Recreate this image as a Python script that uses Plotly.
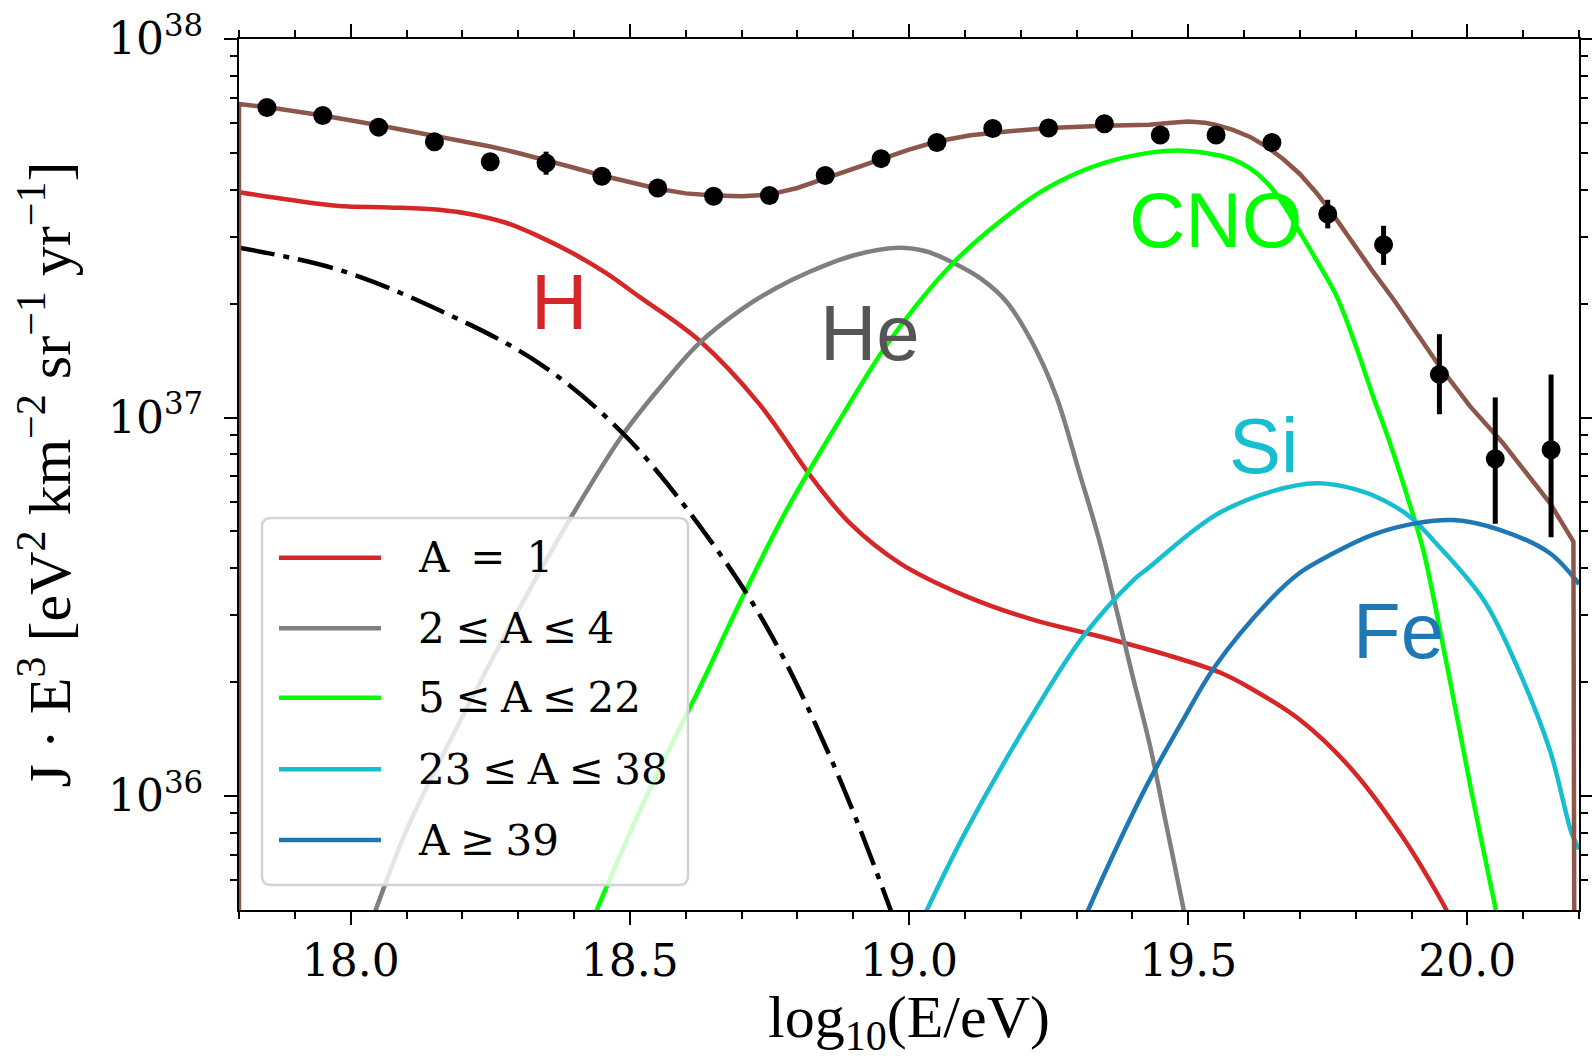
import plotly.graph_objects as go

# ---------------- data ----------------
# measured points
data_x = [17.85, 17.95, 18.05, 18.15, 18.25, 18.35, 18.45, 18.55, 18.65, 18.75, 18.85, 18.95,
          19.05, 19.15, 19.25, 19.35, 19.45, 19.55, 19.65, 19.75, 19.85, 19.95, 20.05, 20.15]
data_y = [6.59e37, 6.28e37, 5.85e37, 5.35e37, 4.74e37, 4.70e37, 4.34e37, 4.04e37, 3.84e37, 3.86e37,
          4.36e37, 4.83e37, 5.33e37, 5.80e37, 5.82e37, 5.97e37, 5.58e37, 5.58e37, 5.33e37, 3.45e37,
          2.86e37, 1.30e37, 7.78e36, 8.22e36]
err_plus = [1.5e36, 1.5e36, 1.5e36, 1.5e36, 1.5e36, 3.4e36, 1.4e36, 1.3e36, 1.2e36, 1.2e36,
            1.4e36, 1.5e36, 1.6e36, 1.8e36, 1.8e36, 1.9e36, 1.8e36, 1.8e36, 1.9e36, 3.1e36,
            3.5e36, 3.6e36, 3.52e36, 4.78e36]
err_minus = [1.5e36, 1.5e36, 1.5e36, 1.5e36, 1.5e36, 3.2e36, 1.4e36, 1.3e36, 1.2e36, 1.2e36,
             1.4e36, 1.5e36, 1.6e36, 1.8e36, 1.8e36, 1.9e36, 1.8e36, 1.8e36, 1.9e36, 2.9e36,
             3.3e36, 2.8e36, 2.54e36, 3.39e36]

# model components
h_x = [17.80, 17.89, 17.979, 18.069, 18.158, 18.218, 18.278, 18.337, 18.397, 18.457, 18.516, 18.624,
       18.731, 18.829, 18.894, 18.984, 19.103, 19.223, 19.342, 19.462, 19.557, 19.611, 19.70, 19.79,
       19.88, 19.951, 20.00]
h_y = [3.94e37, 3.76e37, 3.62e37, 3.59e37, 3.54e37, 3.44e37, 3.27e37, 3.01e37, 2.72e37, 2.41e37,
       2.09e37, 1.60e37, 1.09e37, 6.84e36, 5.26e36, 4.12e36, 3.37e36, 2.92e36, 2.64e36, 2.36e36,
       2.12e36, 1.93e36, 1.59e36, 1.19e36, 7.96e35, 5.37e35, 3.9e35]

he_x = [18.03, 18.045, 18.10, 18.20, 18.30, 18.40, 18.487, 18.56, 18.624, 18.70, 18.76, 18.82, 18.90,
        18.98, 19.03, 19.08, 19.13, 19.175, 19.22, 19.264, 19.306, 19.34, 19.372, 19.40, 19.432, 19.46,
        19.491, 19.51]
he_y = [4.37e35, 5.01e35, 8.13e35, 1.62e36, 3.09e36, 5.62e36, 8.99e36, 1.23e37, 1.57e37, 1.93e37,
        2.19e37, 2.42e37, 2.68e37, 2.81e37, 2.75e37, 2.56e37, 2.32e37, 2.02e37, 1.585e37, 1.135e37,
        7.08e36, 4.79e36, 3.09e36, 2.09e36, 1.35e36, 8.51e35, 5.09e35, 3.63e35]

cno_x = [18.43, 18.441, 18.53, 18.626, 18.70, 18.781, 18.876, 18.966, 19.079, 19.16, 19.235, 19.30,
         19.354, 19.432, 19.49, 19.551, 19.58, 19.611, 19.641, 19.67, 19.70, 19.73, 19.766, 19.80,
         19.83, 19.862, 19.897, 19.921, 19.94, 19.972, 20.009, 20.051, 20.07]
cno_y = [4.57e35, 5.01e35, 1.0e36, 1.945e36, 3.31e36, 5.70e36, 9.86e36, 1.60e37, 2.56e37, 3.27e37,
         3.94e37, 4.42e37, 4.73e37, 5.01e37, 5.07e37, 4.94e37, 4.81e37, 4.55e37, 4.17e37, 3.67e37,
         3.09e37, 2.60e37, 2.09e37, 1.55e37, 1.15e37, 8.51e36, 5.89e36, 4.47e36, 3.31e36, 1.91e36,
         1.0e36, 5.01e35, 3.72e35]

si_x = [19.02, 19.032, 19.103, 19.223, 19.312, 19.402, 19.432, 19.50, 19.557, 19.65, 19.73, 19.80,
        19.85, 19.90, 19.939, 20.029, 20.089, 20.148, 20.187, 20.20]
si_y = [4.57e35, 5.0e35, 8.13e35, 1.656e36, 2.64e36, 3.72e36, 4.04e36, 4.90e36, 5.61e36, 6.38e36,
        6.70e36, 6.46e36, 6.05e36, 5.43e36, 4.74e36, 3.30e36, 2.20e36, 1.32e36, 7.96e35, 7.24e35]

fe_x = [19.31, 19.321, 19.38, 19.432, 19.49, 19.548, 19.647, 19.70, 19.76, 19.83, 19.909, 19.975,
        20.058, 20.148, 20.19, 20.20]
fe_y = [4.57e35, 5.0e35, 7.76e35, 1.11e36, 1.58e36, 2.20e36, 3.30e36, 3.89e36, 4.38e36, 4.90e36,
        5.26e36, 5.36e36, 5.05e36, 4.38e36, 3.79e36, 3.63e36]

dd_x = [17.80, 17.979, 18.158, 18.337, 18.487, 18.626, 18.745, 18.864, 18.966, 19.00]
dd_y = [2.81e37, 2.455e37, 1.923e37, 1.393e37, 9.10e36, 5.15e36, 2.80e36, 1.219e36, 5.05e35, 3.6e35]

tot_x = [17.80, 17.80, 17.85, 17.95, 18.05, 18.10, 18.15, 18.20, 18.25, 18.30, 18.35, 18.40, 18.45,
         18.50, 18.55, 18.60, 18.65, 18.70, 18.75, 18.80, 18.85, 18.90, 18.95, 19.00, 19.05, 19.11,
         19.175, 19.25, 19.35, 19.43, 19.47, 19.50, 19.53, 19.55, 19.58, 19.61, 19.64, 19.67, 19.70,
         19.73, 19.76, 19.79, 19.83, 19.868, 19.91, 19.951, 20.005, 20.064, 20.148, 20.19, 20.20]
tot_y = [1e30, 6.73e37, 6.61e37, 6.28e37, 5.92e37, 5.73e37, 5.55e37, 5.38e37, 5.20e37, 5.00e37,
         4.79e37, 4.57e37, 4.36e37, 4.18e37, 4.02e37, 3.91e37, 3.86e37, 3.84e37, 3.88e37, 4.04e37,
         4.28e37, 4.55e37, 4.82e37, 5.10e37, 5.36e37, 5.57e37, 5.70e37, 5.82e37, 5.90e37, 5.94e37,
         6.01e37, 6.05e37, 6.01e37, 5.93e37, 5.75e37, 5.52e37, 5.20e37, 4.82e37, 4.40e37, 3.92e37,
         3.43e37, 2.95e37, 2.44e37, 2.05e37, 1.67e37, 1.36e37, 1.07e37, 8.55e36, 5.94e36, 4.70e36,
         1e30]

series_names = ["A\u2002=\u20021", "2\u2005≤\u2005A\u2005≤\u20054", "5\u2005≤\u2005A\u2005≤\u200522",
                "23\u2005≤\u2005A\u2005≤\u200538", "A\u2005≥\u200539"]
curve_labels = ["H", "He", "CNO", "Si", "Fe"]
label_x = [18.373, 18.931, 19.549, 19.635, 19.877]
label_logy = [37.304, 37.224, 37.523, 36.925, 36.436]

x_tickvals = [18.0, 18.5, 19.0, 19.5, 20.0]
x_ticktext = ["18.0", "18.5", "19.0", "19.5", "20.0"]
y_tickvals = [1e36, 1e37, 1e38]
y_ticktext = ["10<sup>36</sup>", "10<sup>37</sup>", "10<sup>38</sup>"]
y_minor = [float(k) * 10.0 ** d for d in (35, 36, 37) for k in range(2, 10)
           if float(k) * 10.0 ** d >= 5e35]

# ---------------- styling ----------------
colors = ["#d62728", "#7f7f7f", "#00ff00", "#17becf", "#1f77b4"]
label_colors = ["#d62728", "#555555", "#00ff00", "#17becf", "#1f77b4"]
LW = 4.5

fig = go.Figure()
comp = [(h_x, h_y), (he_x, he_y), (cno_x, cno_y), (si_x, si_y), (fe_x, fe_y)]
for (xs, ys), c, n in zip(comp, colors, series_names):
    fig.add_trace(go.Scatter(x=xs, y=ys, mode="lines", name=n,
                             line=dict(color=c, width=LW, shape="spline", smoothing=1.0)))
fig.add_trace(go.Scatter(x=dd_x, y=dd_y, mode="lines", name="dash-dot",
                         line=dict(color="black", width=LW, dash="36px,9px,6px,9px",
                                   shape="spline", smoothing=1.0)))
fig.add_trace(go.Scatter(x=tot_x, y=tot_y, mode="lines", name="total",
                         line=dict(color="#8c564b", width=LW)))
fig.add_trace(go.Scatter(x=data_x, y=data_y, mode="markers", name="data",
                         marker=dict(color="black", size=19),
                         error_y=dict(type="data", symmetric=False, array=err_plus,
                                      arrayminus=err_minus, color="black", thickness=5, width=0)))

# curve labels
for t, xv, yv, c in zip(curve_labels, label_x, label_logy, label_colors):
    fig.add_annotation(x=xv, y=yv, xref="x", yref="y", text=t, showarrow=False,
                       xanchor="center", yanchor="middle",
                       font=dict(family="Liberation Sans, Arial", size=78, color=c))

# legend (drawn manually to match line-sample length)
L = 239; R = 1579; T = 39; B = 910
W = R - L; H = B - T
def px(xf):
    return (xf - L) / W
def py(yf):
    return (B - yf) / H
bx0, bx1, by0, by1 = px(262), px(688), py(885), py(518)
rx, ry = 9 / W, 9 / H
path = (f"M{bx0+rx},{by1} L{bx1-rx},{by1} Q{bx1},{by1} {bx1},{by1-ry} "
        f"L{bx1},{by0+ry} Q{bx1},{by0} {bx1-rx},{by0} L{bx0+rx},{by0} "
        f"Q{bx0},{by0} {bx0},{by0+ry} L{bx0},{by1-ry} Q{bx0},{by1} {bx0+rx},{by1} Z")
fig.add_shape(type="path", path=path, xref="paper", yref="paper", layer="above",
              fillcolor="rgba(255,255,255,0.8)", line=dict(color="#d4d4d4", width=2.5))
entry_y = [557.7, 628.3, 697.7, 769.3, 840.0]
for ey, c, n in zip(entry_y, colors, series_names):
    fig.add_shape(type="line", xref="paper", yref="paper", layer="above",
                  x0=px(279), x1=px(381), y0=py(ey), y1=py(ey),
                  line=dict(color=c, width=LW))
    fig.add_annotation(x=px(416), y=py(ey), xref="paper", yref="paper", text=n,
                       showarrow=False, xanchor="left", yanchor="middle",
                       font=dict(family="DejaVu Serif", size=42, color="black"))

axis_common = dict(showline=True, linecolor="black", linewidth=2.2, mirror="allticks",
                   ticks="outside", ticklen=13, tickwidth=2.2, tickcolor="black",
                   showgrid=False, zeroline=False, automargin=False,
                   tickfont=dict(family="DejaVu Serif", size=44, color="black"))

fig.update_xaxes(range=[17.8, 20.2], tickmode="array", tickvals=x_tickvals, ticktext=x_ticktext,
                 minor=dict(ticks="outside", ticklen=7, tickwidth=2, tickcolor="black",
                            tick0=18.0, dtick=0.1, showgrid=False),
                 ticklabelstandoff=-2,
                 title=dict(text="log<sub>10</sub>(E/eV)", standoff=8,
                            font=dict(family="Liberation Serif, Times New Roman", size=60,
                                      color="black")),
                 **axis_common)
fig.update_yaxes(type="log", range=[35.69897, 38.0], tickmode="array", tickvals=y_tickvals,
                 ticktext=y_ticktext,
                 minor=dict(ticks="outside", ticklen=7, tickwidth=2, tickcolor="black",
                            tickmode="array", tickvals=y_minor, showgrid=False),
                 ticklabelstandoff=12,
                 title=dict(text="J · E<sup>3</sup> [eV<sup>2</sup> km<sup>−2</sup> sr<sup>−1</sup> yr<sup>−1</sup>]",
                            standoff=18,
                            font=dict(family="Liberation Serif, Times New Roman", size=60,
                                      color="black")),
                 **axis_common)

fig.update_layout(width=1592, height=1059, margin=dict(l=239, r=13, t=39, b=149, pad=0),
                  paper_bgcolor="white", plot_bgcolor="white", showlegend=False)

fig.write_html("out.html")
